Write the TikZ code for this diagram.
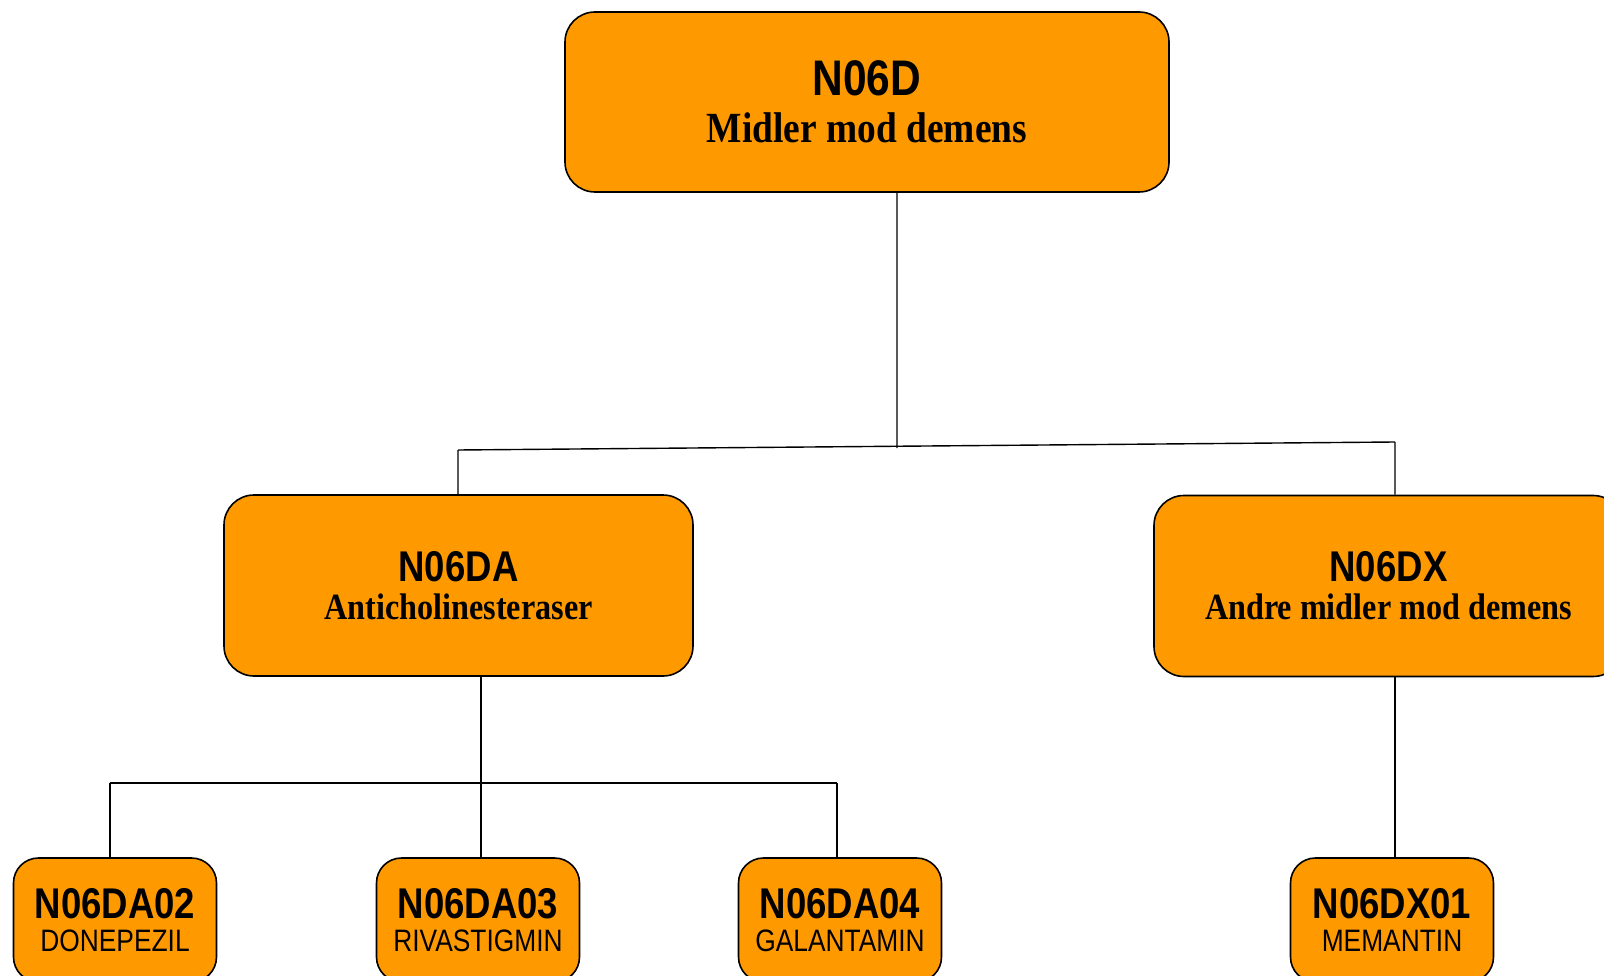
\documentclass[tikz,border=0pt]{standalone}
\usepackage{fontspec}
\newfontfamily\codefont[FakeStretch=0.85]{Liberation Sans}
\newfontfamily\namefont[FakeStretch=0.87]{Liberation Serif}
\usepackage{tikz}
\usetikzlibrary{positioning}
\definecolor{atcorange}{HTML}{FF9900}
\tikzset{
  atcbox/.style={draw=black, line width=1.6pt, fill=atcorange, rounded corners=30pt,
    inner sep=0pt, align=center},
  bigbox/.style={atcbox, minimum width=604pt, minimum height=180pt,
    font=\fontsize{43}{47}\selectfont},
  midbox/.style={atcbox, minimum width=469pt, minimum height=181pt,
    font=\fontsize{37}{38}\selectfont},
  leafbox/.style={atcbox, rounded corners=25pt, minimum width=203pt, minimum height=124pt,
    font=\fontsize{31}{33}\selectfont},
  link/.style={line width=1.4pt}
}
\newcommand{\code}[2]{{\codefont\bfseries\fontsize{#1}{#1}\selectfont #2}}
\newcommand{\grp}[1]{{\namefont\bfseries #1}}
\newcommand{\drug}[1]{{\codefont #1}}

\begin{document}
\begin{tikzpicture}[x=1pt,y=-1pt]
	\useasboundingbox (0,0) rectangle (1604,976);
	%Nodes
	\node[bigbox] (N06D) at (867,102) {\code{50}{N06D}\\\grp{Midler mod demens}};
	\node[midbox] (N06DA) at (458.5,585.5) {\code{43}{N06DA}\\\grp{Anticholinesteraser}};
	\node[midbox] (N06DX) at (1388.5,586) {\code{43}{N06DX}\\\grp{Andre midler mod demens}};
	\node[leafbox] (N06DA02) at (115,920) {\code{43}{N06DA02}\\\drug{DONEPEZIL}};
	\node[leafbox] (N06DA03) at (478,920) {\code{43}{N06DA03}\\\drug{RIVASTIGMIN}};
	\node[leafbox] (N06DA04) at (840,920) {\code{43}{N06DA04}\\\drug{GALANTAMIN}};
	\node[leafbox] (N06DX01) at (1392,920) {\code{43}{N06DX01}\\\drug{MEMANTIN}};
	%Junctions
	\coordinate (j0) at (897,448);
	\coordinate (jL) at (458,450);
	\coordinate (jR) at (1395,442);
	\coordinate (k0) at (481,783);
	\coordinate (kL) at (110,783);
	\coordinate (kR) at (837,783);
	%First level
	\draw[link]
		(N06D.south -| j0) -- (j0)
		(jL) -- (jR)
		(jL) -- (jL |- N06DA.north)
		(jR) -- (jR |- N06DX.north)
	;
	%Second level
	\draw[link]
		(N06DA.south -| k0) -- (k0 |- N06DA03.north)
		(kL) -- (kR)
		(kL) -- (kL |- N06DA02.north)
		(kR) -- (kR |- N06DA04.north)
		(N06DX.south -| jR) -- (jR |- N06DX01.north)
	;
\end{tikzpicture}
\end{document}
